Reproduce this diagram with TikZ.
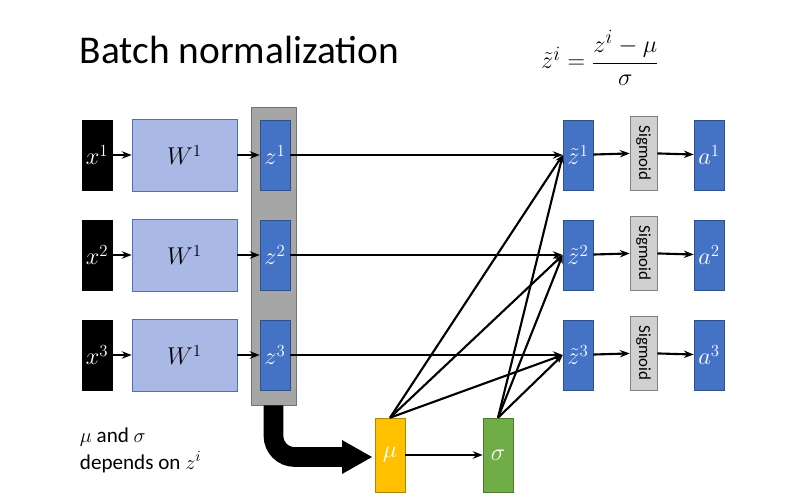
\documentclass[tikz,border=0pt]{standalone}
\usepackage{fontspec}
\setmainfont{Carlito}
\usetikzlibrary{arrows.meta}
\begin{document}
\begin{tikzpicture}[x=0.025cm,y=-0.025cm,
 box/.style={draw=#1!70!black,fill=#1,minimum width=0.75cm,minimum height=1.75cm,inner sep=0,text=white,font=\fontsize{17}{17}\selectfont},
 ar/.style={-{Stealth[length=7pt]},line width=1.5pt},
 lk/.style={line width=1.5pt,-{Stealth[length=6pt]}}]
\useasboundingbox (0,0) rectangle (800,500);
\definecolor{bl}{HTML}{4472C4}\definecolor{lb}{HTML}{A9B8E4}
\definecolor{gr}{HTML}{A6A6A6}\definecolor{org}{HTML}{FFC000}\definecolor{grn}{HTML}{70AD47}
\definecolor{sg}{HTML}{D0D0D0}
\node[anchor=west,font=\fontsize{28}{28}\selectfont] (title) at (75,50) {Batch normalization};
\node[font=\fontsize{19}{19}\selectfont] (f) at (600,58) {$\tilde z^i=\displaystyle\frac{z^i-\mu}{\sigma}$};
\node[draw=gr!70!black,fill=gr,minimum width=1.125cm,minimum height=7.45cm,inner sep=0] (g) at (273.5,256) {};
\foreach \i/\y in {1/155,2/255,3/355}{
 \node[box=black] (x\i) at (97,\y) {$x^{\i}$};
 \node[draw=bl,fill=lb,minimum width=2.625cm,minimum height=1.8cm,font=\fontsize{17}{17}\selectfont] (w\i) at (184.5,\y) {$W^1$};
 \node[box=bl] (z\i) at (275,\y) {$z^{\i}$};
 \node[box=bl] (t\i) at (578,\y) {$\tilde z^{\i}$};
 \node[draw=gray,fill=sg,minimum width=0.675cm,minimum height=1.85cm,inner sep=0] (s\i) at (643.5,\y-2) {};
 \node[rotate=-90,font=\fontsize{12}{12}\selectfont] (sl\i) at (s\i) {Sigmoid};
 \node[box=bl] (a\i) at (709,\y) {$a^{\i}$};
 \draw[ar] (x\i) -- (w\i);
 \draw[ar] (w\i) -- (z\i);
 \draw[ar] (z\i) -- (t\i);
 \draw[ar] (t\i) -- (s\i);
 \draw[ar] (s\i) -- (a\i);
}
\node[box=org,minimum height=1.85cm] (mu) at (390,455) {$\mu$};
\node[box=grn,minimum height=1.85cm] (sd) at (498,455) {$\sigma$};
\draw[ar] (mu) -- (sd);
\foreach \i in {1,2,3}{
 \draw[lk] (mu.north) -- (t\i.west);
 \draw[lk] (sd.north) -- (t\i.west);
}
\draw[line width=14pt,rounded corners=15pt] (g.south) -- (273.5,457) -- (345,457);
\fill (342,440) -- (372,457) -- (342,474) -- cycle;
\node[anchor=north west,align=left,font=\fontsize{15}{19}\selectfont] (txt) at (75,423) {$\mu$ and $\sigma$\\depends on $z^i$};
\end{tikzpicture}
\end{document}
